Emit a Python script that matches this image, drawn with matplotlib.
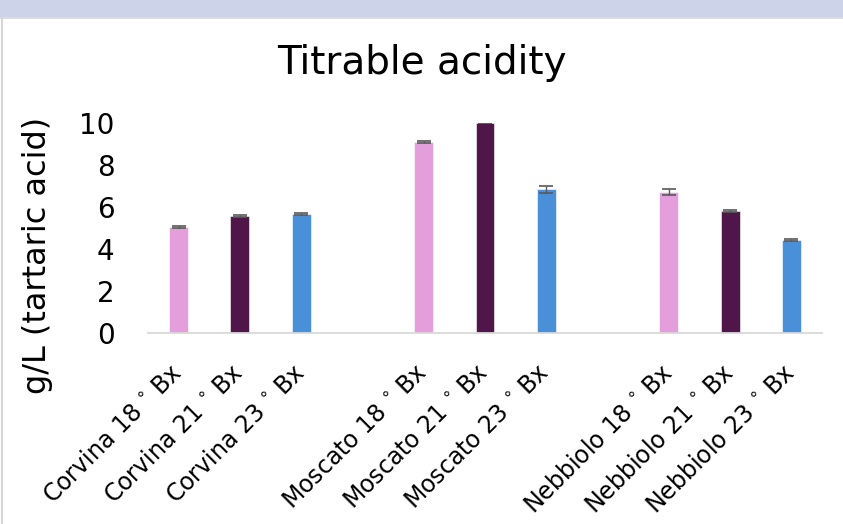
import matplotlib.pyplot as plt
from matplotlib.patches import Rectangle
from matplotlib.lines import Line2D

# data
varieties = ["Corvina", "Moscato", "Nebbiolo"]
brix = ["18", "21", "23"]
acidity = [5.05, 5.55, 5.65,
           9.08, 10.0, 6.83,
           6.72, 5.80, 4.42]
errors = [0.04, 0.04, 0.04,
          0.04, 0.0, 0.15,
          0.15, 0.04, 0.03]
bar_colors = ["#e49edb", "#50164a", "#4a90d9"]

fig = plt.figure(figsize=(8.43, 5.24), dpi=100)
fig.patch.set_facecolor("white")

# slide header band and frame
fig.patches.append(Rectangle((0, 1 - 17 / 524), 1, 17 / 524, transform=fig.transFigure,
                             facecolor="#cdd3e8", edgecolor="none", zorder=0))
fig.lines.append(Line2D([0, 1], [1 - 18 / 524] * 2, transform=fig.transFigure,
                        color="#d6d6d6", lw=1.2))
fig.lines.append(Line2D([1.5 / 843] * 2, [0, 1 - 18 / 524], transform=fig.transFigure,
                        color="#d6d6d6", lw=1.5))

ax = fig.add_axes([148 / 843, 1 - 333 / 524, (822 - 148) / 843, (333 - 122.7) / 524])

positions = []
labels = []
colors = []
for g, variety in enumerate(varieties):
    for b, bx in enumerate(brix):
        positions.append(g * 4 + b)
        labels.append(f"{variety} {bx}$\\,^\\circ\\,$Bx")
        colors.append(bar_colors[b])

ax.bar(positions, acidity, width=0.31, color=colors, edgecolor="white", linewidth=0.4, zorder=2)
ax.errorbar(positions, acidity, yerr=errors, fmt="none", ecolor="#595959",
            elinewidth=1.0, capsize=5, capthick=1.2, zorder=3)

ax.set_xlim(-0.5, 10.5)
ax.set_ylim(0, 10)
ax.set_yticks([0, 2, 4, 6, 8, 10])
ax.set_xticks(positions)
ax.set_xticklabels(labels, rotation=45, ha="right", va="center", rotation_mode="anchor")

for side in ["top", "right", "left"]:
    ax.spines[side].set_visible(False)
ax.spines["bottom"].set_color("#d9d9d9")
ax.spines["bottom"].set_linewidth(1.3)
ax.tick_params(axis="both", length=0)
ax.tick_params(axis="y", labelsize=20, pad=24)
ax.tick_params(axis="x", labelsize=17, pad=26)

fig.text(38 / 843, 1 - 255 / 524, "g/L (tartaric acid)", fontsize=23, rotation=90,
         ha="center", va="center")
fig.text(0.5, 1 - 63 / 524, "Titrable acidity", fontsize=28, ha="center", va="center")

fig.savefig("out.png", dpi=100)
